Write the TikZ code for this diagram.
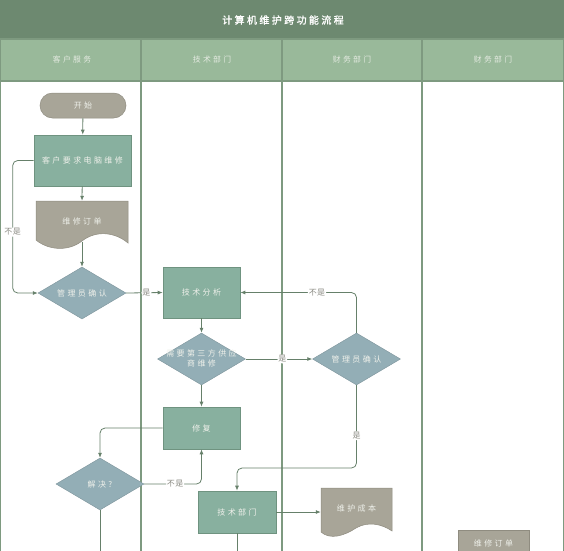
\documentclass[tikz,border=0pt]{standalone}
\usepackage{fontspec}
\usetikzlibrary{shapes.geometric,arrows.meta}
\newfontfamily\cjk[LetterSpace=30]{Noto Sans CJK SC}
\newfontfamily\cjkhead[LetterSpace=30]{Noto Sans CJK SC}
\newfontfamily\cjktitle[LetterSpace=24,FakeBold=1.5]{Noto Sans CJK SC}
\newfontfamily\cjklbl[LetterSpace=5]{Noto Sans CJK SC}
\definecolor{titlec}{HTML}{6D8970}
\definecolor{headc}{HTML}{99B99A}
\definecolor{lanec}{HTML}{7E9A80}
\definecolor{procf}{HTML}{88B09F}
\definecolor{procd}{HTML}{6F9380}
\definecolor{decf}{HTML}{93AEB6}
\definecolor{grayf}{HTML}{A8A598}
\definecolor{grayd}{HTML}{8F8C80}
\definecolor{txtc}{HTML}{EEF0EA}
\definecolor{lblc}{HTML}{8C8C84}
\definecolor{connc}{HTML}{66806A}
\tikzset{
  proc/.style={rectangle,fill=procf,draw=procd,line width=0.6pt,text=txtc,font=\cjk\fontsize{8}{10}\selectfont,inner sep=0pt},
  dec/.style={diamond,fill=decf,draw=decf!85!black,line width=0.4pt,inner sep=0pt,minimum width=88pt,minimum height=52pt,aspect=1.7},
  dectext/.style={text=txtc,font=\cjk\fontsize{8}{10}\selectfont,align=center,inner sep=0pt},
  term/.style={rectangle,rounded corners=12.5pt,fill=grayf,draw=grayd,line width=0.5pt,text=txtc,font=\cjk\fontsize{8}{10}\selectfont,minimum width=86pt,minimum height=25pt,inner sep=0pt},
  docbox/.style={rectangle,inner sep=0pt,draw=none},
  docshape/.style={fill=grayf,draw=grayd,line width=0.5pt},
  doctext/.style={text=txtc,font=\cjk\fontsize{8}{10}\selectfont,inner sep=0pt},
  conn/.style={draw=connc,line width=0.8pt,rounded corners=5pt,-{Latex[length=5pt,width=4pt]}},
  plainconn/.style={draw=connc,line width=0.8pt,rounded corners=5pt},
  lbl/.style={fill=white,text=lblc,font=\cjklbl\fontsize{8}{10}\selectfont,inner sep=1pt},
  lane/.style={draw=lanec,line width=1.3pt},
  headtext/.style={text=txtc!90!headc,font=\cjkhead\fontsize{7.8}{9}\selectfont},
}
\begin{document}
\begin{tikzpicture}[x=1pt,y=-1pt]
\useasboundingbox (0,0) rectangle (564,550);
\clip (0,0) rectangle (564,550);
% title & header
\fill[titlec] (0,0) rectangle (564,39);
\fill[headc] (0,39) rectangle (564,81);
\node[text=white,font=\cjktitle\fontsize{10}{12}\selectfont] (title) at (283,20) {计算机维护跨功能流程};
\node[headtext] (h1) at (72,60) {客户服务};
\node[headtext] (h2) at (212,60) {技术部门};
\node[headtext] (h3) at (352,60) {财务部门};
\node[headtext] (h4) at (493,60) {财务部门};
% lanes
\draw[lane] (0.7,39) -- (0.7,560);
\draw[lane] (141,39) -- (141,560);
\draw[lane] (282,39) -- (282,560);
\draw[lane] (422,39) -- (422,560);
\draw[lane] (563.3,39) -- (563.3,560);
\draw[lane] (0,39) -- (564,39);
\draw[lane] (0,81) -- (564,81);

% nodes
\node[term] (start) at (83,105.5) {开始};
\node[proc,minimum width=97pt,minimum height=51pt] (req) at (82.5,160.5) {客户要求电脑维修};
% document 1
\node[docbox,minimum width=92pt,minimum height=41pt] (doc1) at (82,221.5) {};
\path[docshape] (36,201) -- (128,201) -- (128,243)
  .. controls (115,232) and (96,230) .. (82,241)
  .. controls (68,252) and (48,250) .. (36,240) -- cycle;
\node[doctext] at (82,221) {维修订单};

\node[dec] (mgr1) at (82,293) {};
\node[dectext] at (mgr1) {管理员确认};
\node[proc,minimum width=77pt,minimum height=51pt] (ana) at (201.5,292.5) {技术分析};
\node[dec] (third) at (201.5,359) {};
\node[dectext] at (201.5,358.5) {需要第三方供应\\商维修};
\node[dec] (mgr2) at (356.5,359) {};
\node[dectext] at (mgr2) {管理员确认};
\node[proc,minimum width=77pt,minimum height=42pt] (fix) at (201.5,428) {修复};
\node[dec] (solved) at (100,484) {};
\node[dectext] at (solved) {解决?};
\node[proc,minimum width=78pt,minimum height=42pt] (tech) at (237,512) {技术部门};
% document 2
\node[docbox,minimum width=71pt,minimum height=43pt] (cost) at (356.5,509.5) {};
\path[docshape] (321,488) -- (392,488) -- (392,531)
  .. controls (382,524) and (368,521) .. (356,528)
  .. controls (344,536) and (330,540) .. (321,532) -- cycle;
\node[doctext] at (356.5,508) {维护成本};
% bottom right order
\node[rectangle,fill=grayf,draw=grayd,line width=0.5pt,minimum width=71pt,minimum height=46pt,inner sep=0pt] (order2) at (493.5,553) {};
\node[doctext] at (493.5,543.5) {维修订单};

\coordinate (c12) at (356.5,468);
\coordinate (b1) at (237,560);
\coordinate (b2) at (100,560);

% connectors
\draw[conn] (start) -- (req);
\draw[conn] (req) -- (doc1.north);
\draw[conn] (doc1.south) -- (mgr1.north);
\draw[conn] (req.west) -- ++(-21,0) |- node[pos=0.27,lbl]{不是} (mgr1.west);
\draw[conn] (mgr1.east) -- node[lbl,pos=0.55]{是} (ana.west);
\draw[conn] (ana) -- (third);
\draw[conn] (third.east) -- node[lbl,pos=0.55]{是} (mgr2.west);
\draw[conn] (mgr2.north) |- node[pos=0.67,lbl]{不是} (ana.east);
\draw[conn] (third) -- (fix);
\draw[conn] (fix.west) -| (solved.north);
\draw[conn] (solved.east) -| node[pos=0.27,lbl]{不是} (fix.south);
\draw[conn] (mgr2.south) -- node[lbl,pos=0.61]{是} (c12) -| (tech.north);
\draw[conn] (tech.east) -- (tech.east -| cost.west);
\draw[plainconn] (tech.south) -- (b1);
\draw[plainconn] (solved.south) -- (b2);
\end{tikzpicture}
\end{document}
